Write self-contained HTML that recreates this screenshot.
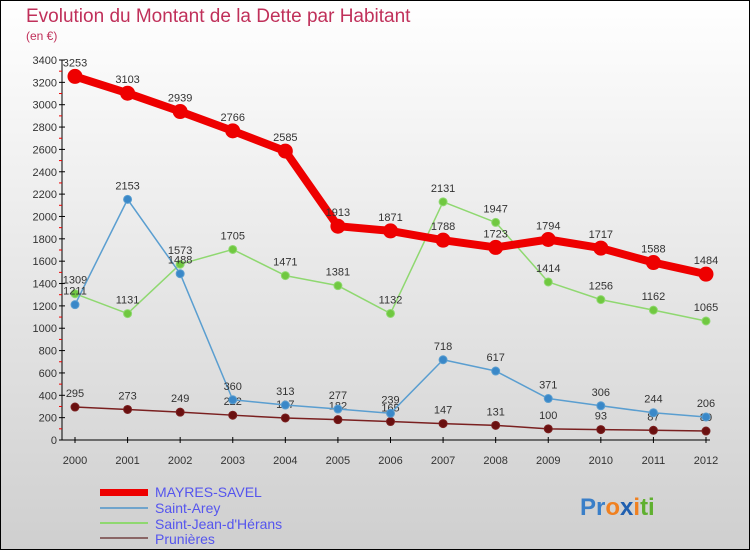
<!DOCTYPE html>
<html><head><meta charset="utf-8"><style>
body{margin:0}
svg{display:block;font-family:"Liberation Sans",sans-serif}
</style></head><body>
<svg id="c" width="750" height="550" viewBox="0 0 750 550">
<defs><linearGradient id="bg" x1="0" y1="0" x2="0" y2="1"><stop offset="0" stop-color="#ffffff"/><stop offset="1" stop-color="#cfcfcf"/></linearGradient></defs>
<rect x="0.5" y="0.5" width="749" height="549" fill="url(#bg)" stroke="#000"/>
<text x="26" y="22" font-size="19" fill="#c0305a">Evolution du Montant de la Dette par Habitant</text>
<text x="26" y="40" font-size="12" fill="#c0305a">(en €)</text>
<g id="axes"></g><g id="series"></g>
<g>
<rect x="100" y="489" width="48" height="7" fill="#ee0000"/>
<text x="155" y="497" font-size="14" fill="#5555ee">MAYRES-SAVEL</text>
<rect x="100" y="507" width="48" height="2" fill="#70a4cc"/>
<text x="155" y="513" font-size="14" fill="#5555ee">Saint-Arey</text>
<rect x="100" y="522" width="48" height="2" fill="#8fd870"/>
<text x="155" y="529" font-size="14" fill="#5555ee">Saint-Jean-d'Hérans</text>
<rect x="100" y="537" width="48" height="2" fill="#8a6666"/>
<text x="155" y="544" font-size="14" fill="#5555ee">Prunières</text>
</g>
<text x="580" y="515" font-size="24" font-weight="bold"><tspan fill="#3a7fc8">Pr</tspan><tspan fill="#f08020">o</tspan><tspan fill="#2060b0">x</tspan><tspan fill="#f08020">i</tspan><tspan fill="#60b030">ti</tspan></text>
</svg>
<script>
const years=["2000","2001","2002","2003","2004","2005","2006","2007","2008","2009","2010","2011","2012"];
const mayres=[3253,3103,2939,2766,2585,1913,1871,1788,1723,1794,1717,1588,1484];
const arey=[1211,2153,1488,360,313,277,239,718,617,371,306,244,206];
const jean=[1309,1131,1573,1705,1471,1381,1132,2131,1947,1414,1256,1162,1065];
const prun=[295,273,249,222,197,182,165,147,131,100,93,87,80];
const yTicks=[0,200,400,600,800,1000,1200,1400,1600,1800,2000,2200,2400,2600,2800,3000,3200,3400];
const NS="http://www.w3.org/2000/svg";
const X=i=>75+i*(706-75)/(years.length-1);
const Y=v=>440-v*380/3400;
function mk(t,a,p){const e=document.createElementNS(NS,t);for(const k in a)e.setAttribute(k,a[k]);p.appendChild(e);return e;}
const ax=document.getElementById('axes');
let l=mk('line',{x1:62,y1:60,x2:62,y2:440,stroke:'#000'},ax);


l=mk('line',{x1:62,y1:440,x2:710,y2:440,stroke:'#000'},ax);


yTicks.forEach(v=>{
 mk('line',{x1:59,y1:Y(v),x2:65,y2:Y(v),stroke:'#000'},ax);
 if(v<3400)mk('line',{x1:59,y1:Y(v+100),x2:62,y2:Y(v+100),stroke:'#e00'},ax);
 const t=mk('text',{x:57,y:Y(v)+4,'font-size':11,fill:'#333','text-anchor':'end'},ax);t.textContent=v;
 
 
});
years.forEach((y,i)=>{
 mk('line',{x1:X(i),y1:437,x2:X(i),y2:443,stroke:'#000'},ax);
 const t=mk('text',{x:X(i),y:464,'font-size':11,fill:'#333','text-anchor':'middle'},ax);t.textContent=y;
 
 
});
const sg=document.getElementById('series');
function series(d,name,col,w,r,fill){
 const g=mk('g',{},sg);
 
 
 mk('polyline',{points:d.map((v,i)=>X(i)+','+Y(v)).join(' '),fill:'none',stroke:col,'stroke-width':w,'stroke-linejoin':'round'},g);
 d.forEach((v,i)=>{
  const c=mk('circle',{cx:X(i),cy:Y(v),r:r,fill:fill,stroke:col,'stroke-width':1},g);
  
  
  const t=mk('text',{x:X(i),y:Y(v)-10,'font-size':11,fill:'#333','text-anchor':'middle'},g);t.textContent=v;
  
  
 });
}
series(prun,'prunieres-line','#7a2020',1.5,4,'#6a1010');
series(jean,'saint-jean-line','#8fd870',1.5,4,'#70c840');
series(arey,'saint-arey-line','#5a9ed0',1.5,4,'#3a88c8');
series(mayres,'mayres-savel-line','#ee0000',8,7,'#ee0000');
</script>
</body></html>
